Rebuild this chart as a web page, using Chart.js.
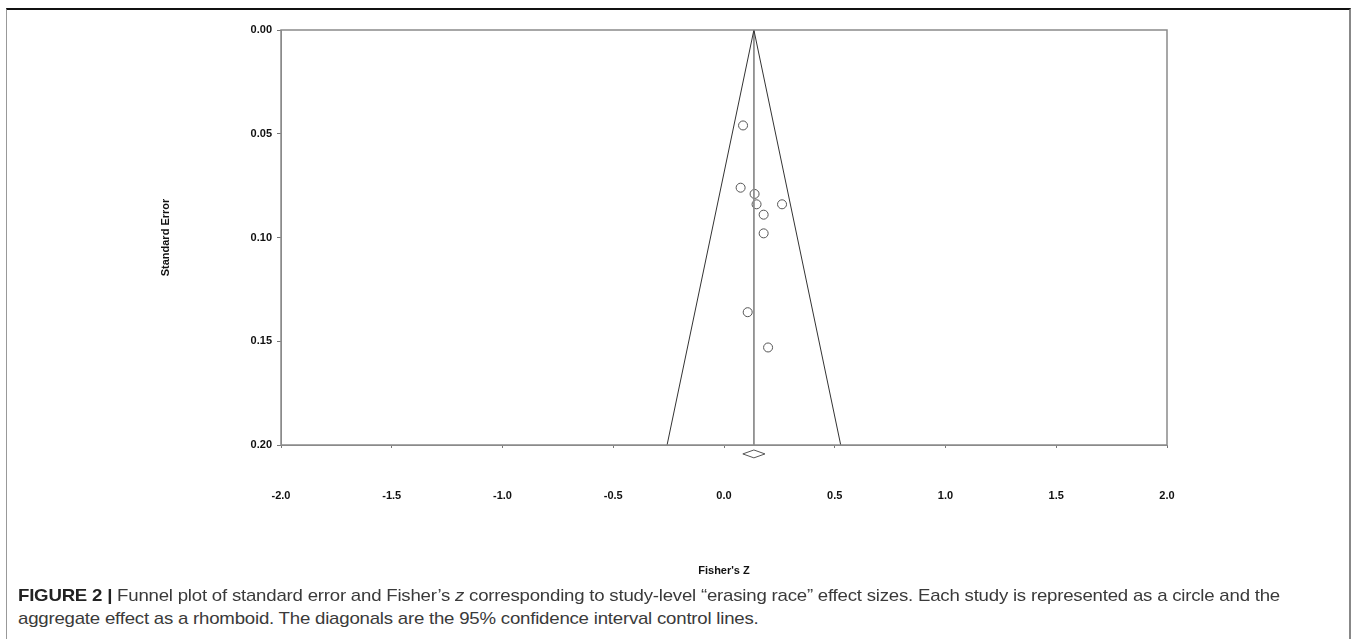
<!DOCTYPE html>
<html>
<head>
<meta charset="utf-8">
<script src="https://cdn.jsdelivr.net/npm/chart.js@4.4.1/dist/chart.umd.min.js"></script>
<style>
  html, body { margin: 0; padding: 0; background: #fff; width: 1360px; height: 639px; overflow: hidden; }
  #frame { position: absolute; left: 6px; top: 8px; width: 1345px; height: 700px;
           border-top: 2px solid #111; border-left: 1px solid #999; border-right: 2px solid #888; box-sizing: border-box; }
  #wrap { position: absolute; left: 0; top: 0; width: 1360px; height: 600px; }
  .cap { position: absolute; left: 18px; font-family: "Liberation Sans", Arial, sans-serif; font-size: 17px;
         color: #3a3a3a; white-space: nowrap; transform-origin: 0 50%; letter-spacing: -0.2px; }
  .cap b { color: #222; }
</style>
</head>
<body>
<div id="frame"></div>
<div id="wrap"><canvas id="c" width="1360" height="600"></canvas></div>
<div class="cap" id="cap1" style="top:586px;"><b>FIGURE 2 |</b> Funnel plot of standard error and Fisher’s <i>z</i> corresponding to study-level “erasing race” effect sizes. Each study is represented as a circle and the</div>
<div class="cap" id="cap2" style="top:609px;">aggregate effect as a rhomboid. The diagonals are the 95% confidence interval control lines.</div>
<script>
// ---- data ----
const studyZ  = [0.086, 0.075, 0.138, 0.147, 0.262, 0.179, 0.179, 0.107, 0.199];
const studySE = [0.046, 0.076, 0.079, 0.084, 0.084, 0.089, 0.098, 0.136, 0.153];
const summaryZ = 0.135;
const summaryLo = 0.085;
const summaryHi = 0.185;
const seMax = 0.20;
const xTicks = [-2.0, -1.5, -1.0, -0.5, 0.0, 0.5, 1.0, 1.5, 2.0];
const yTicks = [0.00, 0.05, 0.10, 0.15, 0.20];
const diamondSE = 0.2043;     // drawn just below the axis
const diamondHalfH = 0.0019;

const scatterPts = studyZ.map((z, i) => ({ x: z, y: studySE[i] }));
const funnelPts = [
  { x: summaryZ - 1.96 * seMax, y: seMax },
  { x: summaryZ, y: 0 },
  { x: summaryZ + 1.96 * seMax, y: seMax }
];
const meanLine = [{ x: summaryZ, y: 0 }, { x: summaryZ, y: seMax }];
const diamond = [
  { x: summaryLo, y: diamondSE },
  { x: summaryZ, y: diamondSE - diamondHalfH },
  { x: summaryHi, y: diamondSE },
  { x: summaryZ, y: diamondSE + diamondHalfH },
  { x: summaryLo, y: diamondSE }
];

const FONT = '"Liberation Sans", Arial, sans-serif';

const frameAndTitles = {
  id: 'frameAndTitles',
  afterDraw(chart) {
    const { ctx, chartArea: a } = chart;
    ctx.save();
    ctx.strokeStyle = '#8a8a8a';
    ctx.lineWidth = 1.5;
    ctx.strokeRect(a.left, a.top, a.right - a.left, a.bottom - a.top);
    ctx.fillStyle = '#111';
    ctx.font = 'bold 11px ' + FONT;
    ctx.textAlign = 'center';
    ctx.textBaseline = 'middle';
    ctx.fillText("Fisher's Z", (a.left + a.right) / 2, 571);
    ctx.translate(166, (a.top + a.bottom) / 2);
    ctx.rotate(-Math.PI / 2);
    ctx.fillText('Standard Error', 0, 0);
    ctx.restore();
  }
};

new Chart(document.getElementById('c'), {
  type: 'scatter',
  data: {
    datasets: [
      { type: 'line', data: funnelPts, borderColor: '#333', borderWidth: 1, pointRadius: 0, fill: false, tension: 0 },
      { type: 'line', data: meanLine, borderColor: '#8a8a8a', borderWidth: 1, pointRadius: 0, fill: false },
      { type: 'line', data: diamond, borderColor: '#555', borderWidth: 1, pointRadius: 0, fill: false, clip: false },
      { data: scatterPts, pointRadius: 4.5, pointHoverRadius: 4.5, borderColor: '#555', borderWidth: 1,
        backgroundColor: 'rgba(255,255,255,0)', pointStyle: 'circle' }
    ]
  },
  options: {
    responsive: false,
    animation: false,
    events: [],
    layout: { padding: { left: 0, top: 30, right: 193, bottom: 95 } },
    plugins: { legend: { display: false }, tooltip: { enabled: false } },
    scales: {
      x: {
        type: 'linear', min: -2, max: 2,
        afterFit(s) { s.height = 60; },
        afterBuildTicks(s) { s.ticks = xTicks.map(v => ({ value: v })); },
        ticks: { padding: 41, color: '#111', font: { family: FONT, size: 11, weight: 'bold' },
                 callback: v => Number(v).toFixed(1) },
        grid: { drawOnChartArea: false, tickLength: 3, color: '#777' },
        border: { color: '#8a8a8a' }
      },
      y: {
        type: 'linear', min: 0, max: seMax, reverse: true,
        afterFit(s) { s.width = 281; },
        afterBuildTicks(s) { s.ticks = yTicks.map(v => ({ value: v })); },
        ticks: { padding: 5, color: '#111', font: { family: FONT, size: 11, weight: 'bold' },
                 callback: v => Number(v).toFixed(2) },
        grid: { drawOnChartArea: false, tickLength: 4, color: '#777' },
        border: { color: '#8a8a8a' }
      }
    }
  },
  plugins: [frameAndTitles]
});

// fit caption line 1 to reference width
(function () {
  const c1 = document.getElementById('cap1');
  const c2 = document.getElementById('cap2');
  const w = c1.getBoundingClientRect().width;
  const k = 1262 / w;
  c1.style.transform = 'scaleX(' + k + ')';
  c2.style.transform = 'scaleX(' + k + ')';
})();
</script>
</body>
</html>
